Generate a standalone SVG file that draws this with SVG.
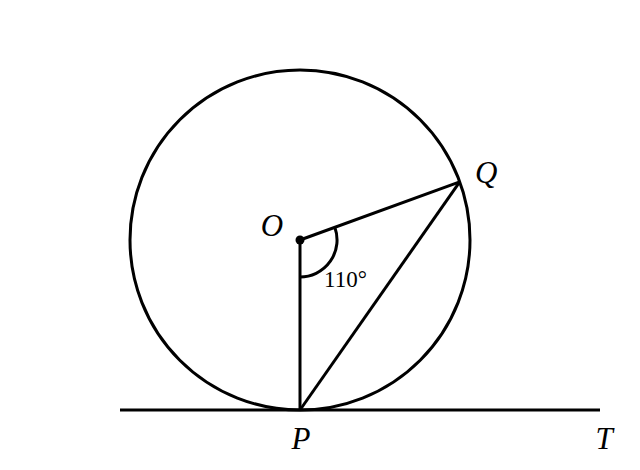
<svg xmlns="http://www.w3.org/2000/svg" width="640" height="470" viewBox="0 0 640 470">
<style>
.ln{fill:none;stroke:#000;stroke-width:3;stroke-linecap:butt}
.lbl{font-family:"Liberation Serif","DejaVu Serif",serif;font-style:italic;font-size:31px;fill:#000}
.num{font-family:"Liberation Serif","DejaVu Serif",serif;font-size:23px;fill:#000}
</style>
<rect width="640" height="470" fill="#fff"/>
<g id="circle"><circle class="ln" cx="300" cy="240" r="170"/></g>
<g id="connectors">
<line class="ln" x1="120" y1="410" x2="600" y2="410"/>
<line class="ln" x1="300" y1="240" x2="300" y2="410"/>
<line class="ln" x1="300" y1="240" x2="459.7" y2="181.9"/>
<line class="ln" x1="300" y1="410" x2="459.7" y2="181.9"/>
<path class="ln" d="M300,277 A37,37 0 0 0 334.8,227.3" stroke-width="2.2"/>
</g>
<g id="O"><circle cx="300" cy="240" r="4.5" fill="#000"/><text class="lbl" x="272" y="236" text-anchor="middle">O</text></g>
<g id="Q"><text class="lbl" x="475" y="183">Q</text></g>
<g id="P"><text class="lbl" x="301" y="449" text-anchor="middle">P</text></g>
<g id="T"><text class="lbl" x="604" y="449" text-anchor="middle">T</text></g>
<g id="angle"><text class="num" x="324" y="287">110°</text></g>
</svg>
